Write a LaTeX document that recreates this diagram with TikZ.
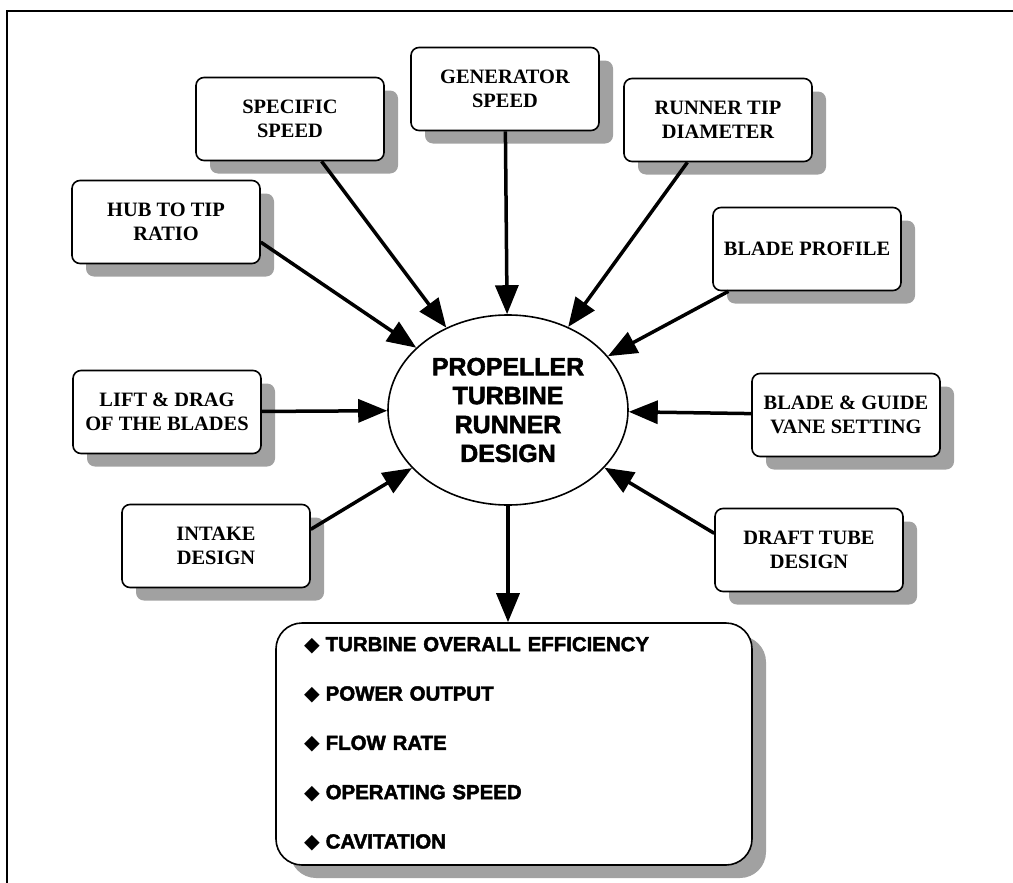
\documentclass[tikz,border=0pt]{standalone}
\usepackage{fontspec}
\setmainfont{Liberation Serif}
\newfontfamily\heavyfont{Liberation Sans Bold}[FakeBold=2.2]
\newfontfamily\symbfont{DejaVu Sans}
\usetikzlibrary{shapes.geometric,shadows,arrows.meta}
\newcommand{\itm}{{\symbfont\char"25C6}\hspace{6bp}}

\begin{document}
\begin{tikzpicture}[x=1bp, y=-1bp,
	factor/.style={shape=rectangle, rounded corners=8bp, draw, line width=1.6bp, align=center, fill=white,
		minimum width=188bp, minimum height=83bp, inner sep=2bp,
		font=\fontsize{20.5}{24.5}\selectfont\bfseries,
		drop shadow={shadow xshift=14bp, shadow yshift=-13bp, fill=black!37, opacity=1}},
	feed/.style={line width=3.5bp, -{Triangle[length=29bp, width=23bp]}}]
			\useasboundingbox (0,0) rectangle (1013,883);
			\draw[line width=2bp] (1013,11) -- (7,11) -- (7,883);
			
			\node (z1)[factor] at (290,119) {SPECIFIC \\ SPEED};
			\node (z2)[factor] at (505,89) {GENERATOR \\ SPEED};
			\node (z3)[factor] at (718,120) {RUNNER TIP \\ DIAMETER};
			\node (z4)[factor] at (166,222) {HUB TO TIP \\ RATIO};
			\node (z5)[factor] at (807,249) {BLADE PROFILE};
			\node (z6)[factor] at (167,412) {LIFT \& DRAG \\ OF THE BLADES};
			\node (z7)[factor] at (846,415) {BLADE \& GUIDE \\ VANE SETTING};
			\node (z8)[factor] at (216,546) {INTAKE \\ DESIGN};
			\node (z9)[factor] at (809,550) {DRAFT TUBE \\ DESIGN};
			
			\node (z10)[shape=ellipse, draw, line width=1.6bp, fill=white, align=center,
				minimum width=240bp, minimum height=190bp, inner sep=0pt,
				font=\heavyfont\fontsize{25}{29}\selectfont] 
			at (508,410) {
				PROPELLER \\
				TURBINE \\
				RUNNER \\
				DESIGN
			};
			
			\node (z11)[shape=rectangle, rounded corners=26bp, draw, line width=1.6bp, fill=white,
				minimum width=476bp, minimum height=242bp, text width=420bp, inner xsep=28bp, align=left,
				font=\heavyfont\fontsize{20.5}{49.5}\selectfont,
				drop shadow={shadow xshift=14bp, shadow yshift=-13bp, fill=black!37, opacity=1}] 
			at (514,744) {
				\itm TURBINE OVERALL EFFICIENCY \\
				\itm POWER OUTPUT \\
				\itm FLOW RATE \\
				\itm OPERATING SPEED \\
				\itm CAVITATION
			};
			
			\path[feed] (z1) edge (z10);
			\path[feed] (z2) edge (z10);
			\path[feed] (z3) edge (z10);
			\path[feed] (z4.-12) edge (z10);
			\path[feed] (z5) edge (z10);
			\path[feed] (z6) edge (z10);
			\path[feed] (z7) edge (z10);
			\path[feed] (z8.10) edge (z10);
			\path[feed] (z9.170) edge (z10);
			\path[feed] (z10.south) edge (z10.south |- z11.north);
		\end{tikzpicture}
\end{document}
